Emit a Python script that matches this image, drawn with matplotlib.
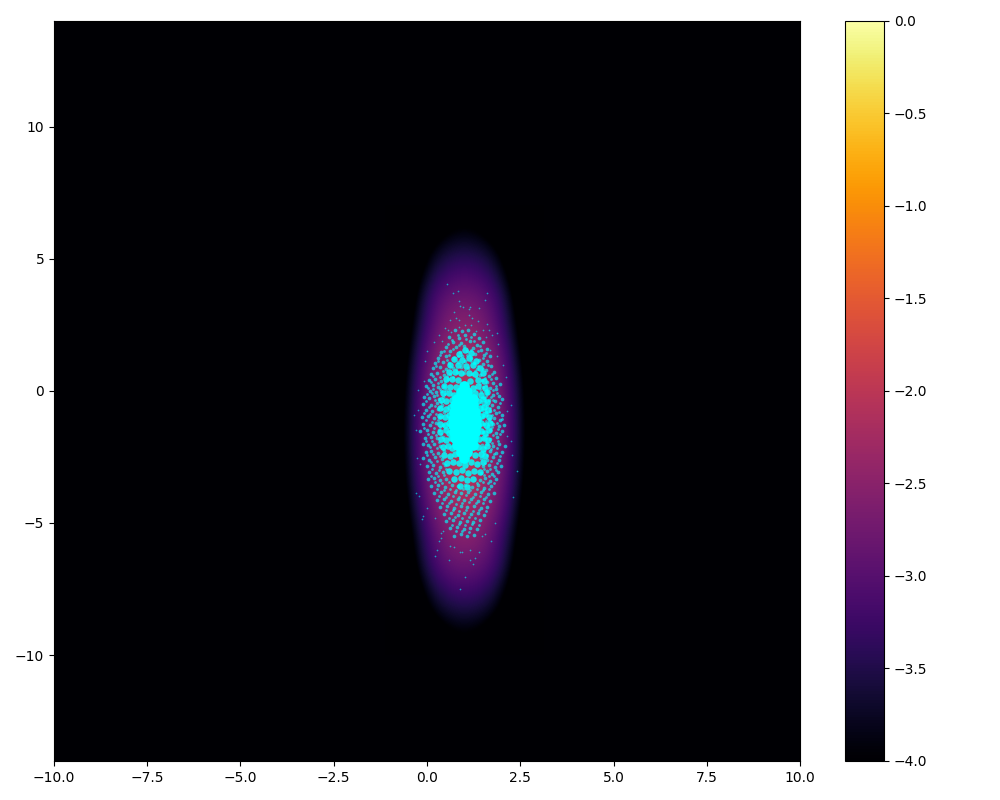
#!/usr/bin/env python3
"""
Log density map with sampled points on top
"""

import numpy as np
import matplotlib
matplotlib.use('Agg')
import matplotlib.pyplot as plt

# density grid (log10 values)
grid_x = [-1.0, -0.75, -0.5, -0.25, 0.0, 0.25, 0.5, 0.75, 1.0,
          1.25, 1.5, 1.75, 2.0, 2.25, 2.5, 2.75, 3.0]
grid_y = [-9.5, -8.5, -7.5, -6.5, -5.5, -4.5, -3.5, -2.5, -1.5,
          -0.5, 0.5, 1.5, 2.5, 3.5, 4.5, 5.5, 6.5]
row_d8 = [-7.0, -6.4, -5.8, -5.3, -4.9, -4.6, -4.35, -4.22, -4.18, -4.22, -4.35, -4.6, -4.9, -5.3, -5.8, -6.4, -7.0]
row_d7 = [-6.4, -5.8, -5.2, -4.6, -4.2, -3.92, -3.76, -3.68, -3.65, -3.68, -3.76, -3.92, -4.2, -4.6, -5.2, -5.8, -6.4]
row_d6 = [-6.0, -5.4, -4.8, -4.2, -3.8, -3.5, -3.33, -3.23, -3.2, -3.23, -3.33, -3.5, -3.8, -4.2, -4.8, -5.4, -6.0]
row_d5 = [-5.6, -5.0, -4.4, -3.85, -3.42, -3.12, -2.93, -2.83, -2.8, -2.83, -2.93, -3.12, -3.42, -3.85, -4.4, -5.0, -5.6]
row_d4 = [-5.4, -4.8, -4.2, -3.68, -3.28, -2.96, -2.72, -2.58, -2.53, -2.58, -2.72, -2.96, -3.28, -3.68, -4.2, -4.8, -5.4]
row_d3 = [-5.2, -4.6, -3.98, -3.45, -3.03, -2.7, -2.47, -2.32, -2.27, -2.32, -2.47, -2.7, -3.03, -3.45, -3.98, -4.6, -5.2]
row_d2 = [-5.0, -4.38, -3.8, -3.28, -2.87, -2.53, -2.29, -2.14, -2.09, -2.14, -2.29, -2.53, -2.87, -3.28, -3.8, -4.38, -5.0]
row_d1 = [-4.9, -4.28, -3.72, -3.18, -2.77, -2.43, -2.19, -2.04, -1.99, -2.04, -2.19, -2.43, -2.77, -3.18, -3.72, -4.28, -4.9]
row_d0 = [-4.85, -4.25, -3.68, -3.15, -2.73, -2.4, -2.15, -2.0, -1.95, -2.0, -2.15, -2.4, -2.73, -3.15, -3.68, -4.25, -4.85]
log_density = [row_d8, row_d7, row_d6, row_d5, row_d4, row_d3, row_d2, row_d1, row_d0,
               row_d1, row_d2, row_d3, row_d4, row_d5, row_d6, row_d7, row_d8]

# isolated samples at the rim of the cloud
outer_x = [.54, .70, .83, 1.61, 1.55, .86, .88, .97, 1.15, 1.13, 1.39, .72, 1.13, 1.21, 1.37, .78, .62, .86,
           1.02, 1.18, 1.61, .48, .56, .86, .64, 1.31, 1.50, 1.66, 1.88, .32, 1.58, 1.74, .19, .40, 1.90, 0.0,
           1.69, -.05, 1.88, 2.04, 2.12, -.24, -.08, 2.25, -.35, -.24, 2.14, -.29, 2.14, 2.25, 2.28, -.27, -.19,
           2.41, -.29, -.21, 2.31, -.11, -.13, 0.0, .21, 1.82, .43, .38, .38, .32, 1.72, 1.55, 1.47, .62, .72,
           .27, .21, .88, .94, 1.15, 1.39, .59, 1.29, 1.15, 1.23, 1.02, .88]
outer_y = [4.05, 3.71, 3.78, 3.71, 3.44, 3.41, 3.22, 3.18, 3.18, 3.10, 3.14, 2.99, 2.88, 2.76, 2.65, 2.76, 2.69, 2.69,
           2.50, 2.50, 2.54, 2.38, 2.31, 2.42, 2.23, 2.27, 2.31, 2.31, 2.19, 2.12, 2.04, 2.12, 1.85, 1.89, 1.78, 1.51,
           1.55, 1.14, 1.32, .98, .53, .04, .38, -.53, -.91, -.72, -.76, -1.48, -1.70, -1.89, -2.42, -2.54, -2.76,
           -3.03, -3.86, -3.97, -4.01, -4.73, -4.84, -4.43, -4.81, -4.99, -5.30, -5.37, -5.56, -5.68, -5.68, -5.41, -5.49, -5.86, -5.90,
           -6.02, -6.24, -6.09, -6.09, -6.02, -6.09, -6.39, -6.32, -6.39, -6.55, -7.04, -7.49]

# the speckled band around the core
mid_points = [
    (.75, 2.3), (.95, 2.25), (1.1, 2.3), (1.25, 2.15), (.6, 2.05), (.85, 2.0), (1.02, 2.1), (1.4, 2.0),
    (.7, 1.85), (.92, 1.8), (1.15, 1.9), (1.33, 1.75), (1.5, 1.85), (.5, 1.65), (.78, 1.65), (1.0, 1.7),
    (1.22, 1.62), (1.44, 1.55), (1.6, 1.6), (.38, 1.45), (.62, 1.5), (.88, 1.45), (1.08, 1.5), (1.3, 1.4),
    (1.52, 1.35), (1.68, 1.3), (.3, 1.25), (.5, 1.3), (.72, 1.25), (.95, 1.3), (1.18, 1.25), (1.4, 1.18),
    (1.6, 1.12), (.22, 1.05), (.42, 1.1), (.6, 1.05), (.82, 1.08), (1.02, 1.12), (1.25, 1.05), (1.5, 1.0),
    (1.72, .95), (.15, .85), (.35, .9), (.52, .82), (.7, .88), (.9, .9), (1.1, .85), (1.35, .82),
    (1.58, .78), (1.8, .72), (.1, .65), (.28, .68), (.45, .6), (.62, .65), (.8, .7), (1.0, .66),
    (1.2, .62), (1.42, .6), (1.65, .55), (1.85, .5), (.05, .42), (.22, .45), (.38, .38), (.55, .44),
    (1.48, .4), (1.62, .34), (1.78, .3), (1.95, .26), (-.02, .2), (.15, .22), (.3, .15), (.45, .2),
    (1.5, .16), (1.68, .1), (1.84, .06), (.08, .0), (.24, -.05), (.38, -.02), (.5, .02), (1.46, -.04),
    (1.6, -.1), (1.76, -.14), (1.92, -.18), (-.08, -.22), (.05, -.26), (.18, -.2), (.32, -.3), (.44, -.24),
    (1.52, -.28), (1.66, -.34), (1.82, -.38), (2.0, -.32), (-.12, -.5), (.1, -.52), (.26, -.46), (.4, -.55),
    (1.5, -.5), (1.62, -.58), (1.74, -.52), (1.9, -.6), (-.02, -.72), (.14, -.78), (.3, -.7), (.46, -.8),
    (1.48, -.74), (1.58, -.82), (1.7, -.76), (1.84, -.84), (2.0, -.9), (-.14, -1.0), (.04, -.96), (.2, -1.04),
    (.36, -.98), (1.5, -1.0), (1.66, -1.06), (1.8, -1.02), (1.96, -1.1), (-.1, -1.24), (.08, -1.3), (.24, -1.22),
    (.42, -1.28), (1.52, -1.26), (1.64, -1.32), (1.78, -1.24), (1.92, -1.34), (2.06, -1.28), (-.18, -1.52), (.0, -1.5),
    (.16, -1.56), (.32, -1.48), (1.5, -1.54), (1.68, -1.5), (1.84, -1.58), (2.02, -1.52), (-.06, -1.78), (.1, -1.74),
    (.28, -1.8), (.44, -1.76), (1.54, -1.78), (1.7, -1.84), (1.88, -1.76), (-.12, -2.02), (.04, -2.06), (.2, -2.0),
    (.36, -2.08), (1.48, -2.04), (1.62, -2.0), (1.78, -2.1), (1.94, -2.02), (2.1, -2.08), (-.04, -2.3), (.12, -2.26),
    (.3, -2.34), (.46, -2.28), (1.52, -2.32), (1.68, -2.26), (1.86, -2.36), (2.0, -2.3), (-.1, -2.56), (.06, -2.6),
    (.22, -2.52), (.4, -2.58), (1.46, -2.54), (1.6, -2.6), (1.76, -2.52), (1.92, -2.62), (.0, -2.84), (.16, -2.8),
    (.34, -2.88), (.48, -2.82), (1.5, -2.84), (1.66, -2.8), (1.82, -2.9), (1.98, -2.86), (.06, -3.08), (.24, -3.12),
    (.42, -3.06), (1.46, -3.1), (1.6, -3.04), (1.74, -3.14), (1.9, -3.08), (.02, -3.34), (.18, -3.3), (.36, -3.38),
    (.52, -3.32), (1.42, -3.36), (1.56, -3.3), (1.7, -3.4), (1.86, -3.34), (.12, -3.6), (.3, -3.56), (.48, -3.64),
    (.66, -3.58), (.84, -3.62), (1.02, -3.56), (1.2, -3.64), (1.38, -3.58), (1.54, -3.66), (1.72, -3.6), (.2, -3.86),
    (.38, -3.82), (.56, -3.9), (.74, -3.84), (.92, -3.88), (1.1, -3.82), (1.28, -3.9), (1.46, -3.84), (1.64, -3.92),
    (1.8, -3.86), (.28, -4.12), (.46, -4.08), (.64, -4.16), (.82, -4.1), (1.0, -4.14), (1.18, -4.08), (1.36, -4.16),
    (1.54, -4.1), (1.7, -4.18), (.36, -4.38), (.54, -4.34), (.72, -4.42), (.9, -4.36), (1.08, -4.4), (1.26, -4.34),
    (1.44, -4.42), (1.62, -4.38), (.46, -4.66), (.64, -4.62), (.82, -4.7), (1.0, -4.64), (1.18, -4.68), (1.36, -4.62),
    (1.52, -4.7), (.52, -4.94), (.7, -4.9), (.88, -4.98), (1.06, -4.92), (1.24, -4.96), (1.42, -4.9), (.62, -5.2),
    (.8, -5.16), (.98, -5.24), (1.16, -5.18), (1.34, -5.22), (.72, -5.48), (.9, -5.42), (1.08, -5.5), (1.26, -5.44),
]

# extra single specks between the others
fine_points = [
    (.83, 2.13), (1.17, 2.04), (.66, 1.93), (1.05, 1.97), (1.27, 1.88), (.57, 1.77), (.86, 1.74), (1.41, 1.71),
    (.46, 1.52), (.71, 1.57), (1.17, 1.54), (1.37, 1.49), (1.59, 1.44), (.34, 1.34), (.6, 1.37), (.83, 1.31),
    (1.08, 1.36), (1.49, 1.23), (.29, 1.13), (.53, 1.17), (.94, 1.03), (1.19, 1.13), (1.37, .94), (1.63, .97),
    (.24, .93), (.43, .76), (.61, .93), (.79, .82), (1.03, .78), (1.28, .74), (1.51, .83), (1.73, .64),
    (.17, .57), (.36, .53), (.54, .57), (.71, .53), (1.31, .51), (1.55, .47), (1.71, .44), (.11, .33),
    (.29, .28), (.47, .33), (1.41, .26), (1.58, .23), (1.86, .17), (.03, .09), (.17, .07), (.35, .08),
    (1.41, .06), (1.61, .01), (1.77, .03), (.0, -.12), (.14, -.09), (.27, -.17), (.49, -.12), (1.57, -.19),
    (1.71, -.24), (1.87, -.07), (-.02, -.37), (.21, -.33), (.37, -.43), (1.44, -.41), (1.59, -.44), (1.77, -.33),
    (1.97, -.47), (.05, -.63), (.21, -.59), (.35, -.62), (1.55, -.67), (1.68, -.64), (1.8, -.71), (-.07, -.84),
    (.09, -.87), (.24, -.89), (.41, -.67), (1.53, -.93), (1.74, -.91), (1.92, -.79), (-.04, -1.12), (.13, -1.17),
    (.29, -1.12), (1.59, -1.14), (1.72, -1.17), (1.88, -1.21), (2.02, -1.06), (-.09, -1.39), (.19, -1.41), (.35, -1.36),
    (1.57, -1.42), (1.74, -1.38), (1.9, -1.46), (.03, -1.63), (.23, -1.69), (.37, -1.64), (1.62, -1.66), (1.78, -1.69),
    (1.95, -1.64), (-.02, -1.91), (.14, -1.89), (.32, -1.94), (1.59, -1.93), (1.74, -1.97), (1.9, -1.89), (.09, -2.14),
    (.26, -2.17), (.43, -2.19), (1.56, -2.13), (1.72, -2.19), (1.87, -2.16), (.0, -2.43), (.17, -2.39), (.34, -2.46),
    (1.6, -2.43), (1.79, -2.41), (1.95, -2.47), (.11, -2.71), (.27, -2.67), (.44, -2.73), (1.56, -2.72), (1.71, -2.67),
    (1.88, -2.74), (.13, -2.96), (.33, -3.0), (.51, -2.94), (1.54, -2.97), (1.7, -2.94), (1.85, -3.0), (.12, -3.21),
    (.29, -3.24), (.46, -3.2), (1.52, -3.18), (1.65, -3.24), (1.79, -3.21), (.22, -3.44), (.41, -3.48), (.59, -3.46),
    (1.33, -3.47), (1.49, -3.45), (1.64, -3.5), (1.8, -3.47), (.28, -3.73), (.45, -3.76), (.63, -3.72), (.79, -3.75),
    (.97, -3.73), (1.15, -3.74), (1.33, -3.71), (1.5, -3.76), (1.67, -3.72), (.33, -3.98), (.51, -4.01), (.69, -3.97),
    (.87, -4.0), (1.05, -3.96), (1.23, -4.0), (1.41, -3.97), (1.59, -4.02), (.41, -4.25), (.58, -4.23), (.77, -4.27),
    (.95, -4.24), (1.13, -4.22), (1.31, -4.26), (1.49, -4.24), (.5, -4.52), (.69, -4.5), (.86, -4.54), (1.04, -4.51),
    (1.22, -4.53), (1.4, -4.5), (1.57, -4.56), (.59, -4.8), (.76, -4.78), (.94, -4.82), (1.12, -4.79), (1.3, -4.81),
    (.66, -5.06), (.85, -5.04), (1.03, -5.08), (1.21, -5.05), (1.39, -5.07), (.78, -5.32), (.95, -5.3), (1.13, -5.34),
]

# the thicker ring inside the speckle
inner_points = [
    (1.02, 1.55), (.86, 1.38), (1.18, 1.42), (.72, 1.2), (.95, 1.18), (1.12, 1.24), (1.32, 1.12), (.62, .98),
    (.84, .96), (1.04, .92), (1.24, .98), (1.42, .88), (.58, .72), (.76, .7), (.92, .66), (1.12, .68),
    (1.3, .62), (1.5, .66), (.5, .46), (.68, .44), (.82, .4), (1.16, .38), (1.36, .42), (1.52, .36),
    (.46, .18), (.62, .14), (.78, .16), (1.22, .12), (1.38, .2), (1.56, .1), (.42, -.1), (.58, -.08),
    (.72, -.14), (1.3, -.1), (1.46, -.16), (1.6, -.06), (.38, -.36), (.52, -.4), (.66, -.34), (1.36, -.38),
    (1.5, -.32), (1.62, -.42), (.36, -.64), (.5, -.7), (.62, -.6), (1.42, -.66), (1.54, -.6), (1.64, -.72),
    (.34, -.94), (.48, -.98), (.6, -.9), (1.44, -.94), (1.56, -.88), (1.66, -1.0), (.34, -1.24), (.48, -1.28),
    (.6, -1.2), (1.46, -1.22), (1.58, -1.3), (1.68, -1.2), (.36, -1.54), (.5, -1.5), (.6, -1.6), (1.44, -1.52),
    (1.56, -1.6), (1.66, -1.5), (.38, -1.82), (.52, -1.86), (.64, -1.78), (1.4, -1.84), (1.54, -1.78), (1.64, -1.88),
    (.42, -2.14), (.56, -2.08), (.68, -2.16), (1.36, -2.12), (1.5, -2.2), (1.6, -2.1), (.46, -2.42), (.62, -2.46),
    (.76, -2.38), (1.28, -2.44), (1.44, -2.38), (1.56, -2.48), (.54, -2.72), (.7, -2.68), (.86, -2.74), (1.02, -2.82),
    (1.18, -2.7), (1.34, -2.76), (1.5, -2.68), (.6, -3.02), (.78, -3.06), (.94, -3.0), (1.1, -3.1), (1.26, -3.02),
    (1.42, -3.08), (.72, -3.34), (.9, -3.3), (1.06, -3.38), (1.24, -3.32), (.88, -3.6), (1.08, -3.64),
]

# the solid part in the middle of the cloud
core_x = [1.0, .9, 1.08, .8, .96, 1.12, 1.24, .74, .9, 1.06, 1.24, .72, .88, 1.04, 1.2, 1.3,
          .7, .86, 1.02, 1.18, 1.32, .7, .86, 1.02, 1.18, 1.32, .72, .88, 1.04, 1.2, 1.3,
          .74, .9, 1.06, 1.24, .8, .96, 1.12, 1.24, .9, 1.08, 1.0]
core_y = [.2, -.05, -.05, -.3, -.3, -.3, -.3, -.55, -.55, -.55, -.55, -.8, -.8, -.8, -.8, -.8,
          -1.05, -1.05, -1.05, -1.05, -1.05, -1.3, -1.3, -1.3, -1.3, -1.3, -1.55, -1.55, -1.55, -1.55, -1.55,
          -1.8, -1.8, -1.8, -1.8, -2.05, -2.05, -2.05, -2.05, -2.3, -2.3, -2.55]

x_ticks = [-10, -7.5, -5, -2.5, 0, 2.5, 5, 7.5, 10]
y_ticks = [-10, -5, 0, 5, 10]
cbar_ticks = [-4, -3.5, -3, -2.5, -2, -1.5, -1, -0.5, 0]


def main():
    fig = plt.figure(figsize=(10, 8), dpi=100)
    ax = fig.add_axes([0.054, 0.049, 0.746, 0.925])
    cax = fig.add_axes([0.845, 0.049, 0.039, 0.925])

    cmap = plt.get_cmap('inferno')
    ax.set_facecolor(cmap(0.0))

    dx = (grid_x[1] - grid_x[0]) / 2
    dy = (grid_y[1] - grid_y[0]) / 2
    im = ax.imshow(np.array(log_density), origin='lower', cmap=cmap, vmin=-4, vmax=0,
                   extent=[grid_x[0] - dx, grid_x[-1] + dx, grid_y[0] - dy, grid_y[-1] + dy],
                   interpolation='bicubic', aspect='auto')

    mid_x, mid_y = zip(*mid_points)
    fine_x, fine_y = zip(*fine_points)
    inner_x, inner_y = zip(*inner_points)
    ax.scatter(core_x, core_y, s=60, c='cyan', linewidths=0)
    ax.scatter(inner_x, inner_y, s=22, c='cyan', linewidths=0, alpha=0.85)
    ax.scatter(mid_x, mid_y, s=7, c='cyan', linewidths=0, alpha=0.65)
    ax.scatter(fine_x, fine_y, s=4, c='cyan', linewidths=0, alpha=0.65)
    ax.scatter(outer_x, outer_y, s=1.5, c='cyan', linewidths=0, alpha=0.6)

    ax.set_xlim(-10, 10)
    ax.set_ylim(-14, 14)
    ax.set_xticks(x_ticks)
    ax.set_yticks(y_ticks)

    cb = fig.colorbar(im, cax=cax)
    cb.set_ticks(cbar_ticks)

    plt.savefig('out.png', dpi=100)
    plt.close()


if __name__ == '__main__':
    main()
